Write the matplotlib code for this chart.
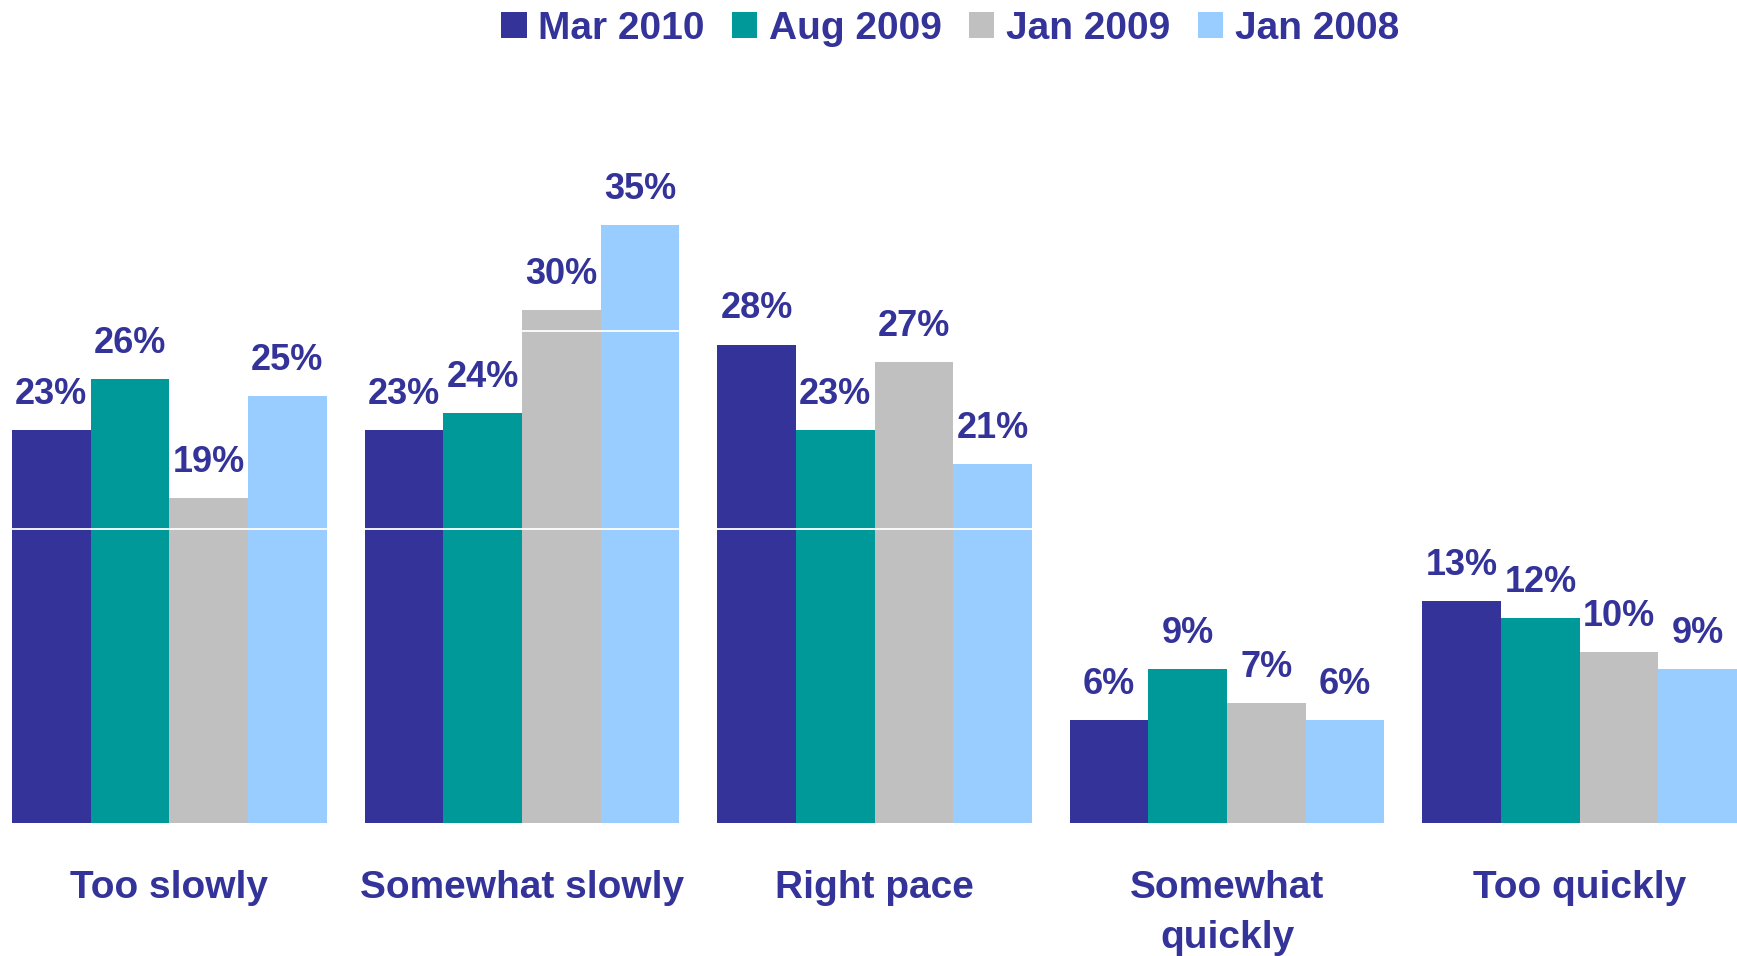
import matplotlib.pyplot as plt
import numpy as np
from matplotlib.patches import Patch

# ---------- data ----------
categories = ["Too slowly", "Somewhat slowly", "Right pace", "Somewhat\nquickly", "Too quickly"]
series_names = ["Mar 2010", "Aug 2009", "Jan 2009", "Jan 2008"]
mar_2010 = [23, 23, 28, 6, 13]
aug_2009 = [26, 24, 23, 9, 12]
jan_2009 = [19, 30, 27, 7, 10]
jan_2008 = [25, 35, 21, 6, 9]
grid_levels = [17.2, 28.8]

# ---------- style ----------
TEXT = "#333399"
COLORS = ["#333399", "#009999", "#C0C0C0", "#99CCFF"]
FONT = "Liberation Sans"
plt.rcParams["font.family"] = [FONT, "DejaVu Sans"]

fig = plt.figure(figsize=(17.37, 9.56), dpi=100)
ax = fig.add_axes([12 / 1737, 0.1391, 1 - 12 / 1737, 0.715])

w = 0.223
x = np.arange(len(categories))
values = [mar_2010, aug_2009, jan_2009, jan_2008]

for j, (name, vals) in enumerate(zip(series_names, values)):
    pos = x + (j - 1.5) * w
    bars = ax.bar(pos, vals, width=w, color=COLORS[j], label=name, zorder=2)
    for b, v in zip(bars, vals):
        ax.annotate(f"{v}%", (b.get_x() + b.get_width() / 2, v),
                    xytext=(0, 13), textcoords="offset points",
                    ha="center", va="bottom", fontsize=26,
                    weight="bold", color=TEXT, zorder=5)

# white lines across the bars (drawn under the labels)
for g in grid_levels:
    ax.axhline(g, color="white", linewidth=1.3, zorder=3)

ax.set_xlim(-2 * w, len(categories) - 1 + 2 * w)
ax.set_ylim(0, 40)
ax.set_yticks([])
ax.set_xticks(x)
ax.set_xticklabels(categories, fontsize=28, weight="bold", color=TEXT,
                   linespacing=1.5)
ax.tick_params(axis="x", length=0, pad=34)
for s in ax.spines.values():
    s.set_visible(False)

handles = [Patch(facecolor=c, edgecolor="none") for c in COLORS]
leg = fig.legend(handles, series_names, loc="upper center",
                 bbox_to_anchor=(0.547, 1.025), ncol=4, frameon=False,
                 handlelength=0.65, handleheight=0.65, handletextpad=0.3,
                 columnspacing=0.7,
                 prop={"family": FONT, "weight": "bold", "size": 28})
for t in leg.get_texts():
    t.set_color(TEXT)

fig.savefig("out.png", dpi=100, facecolor="white")
